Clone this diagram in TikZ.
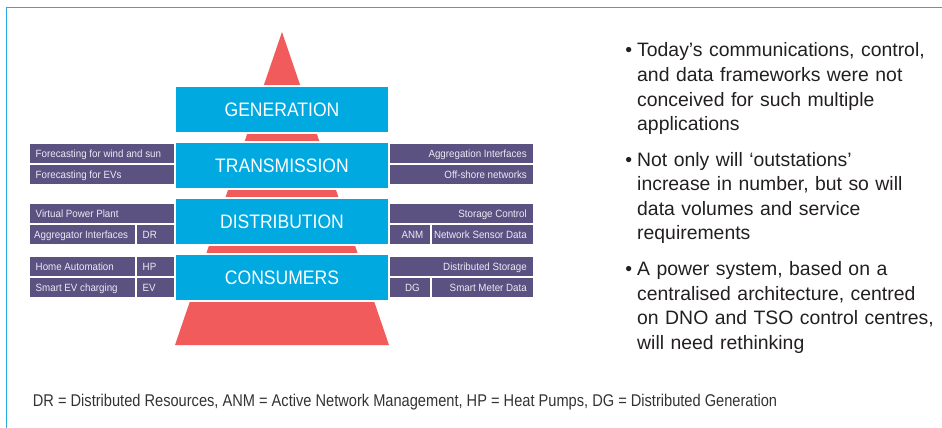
\documentclass[tikz,border=0pt]{standalone}
\usepackage{fontspec}
\setmainfont{Liberation Sans}
\newfontfamily\bandfont{Liberation Sans}[FakeStretch=0.9]
\newfontfamily\tagfont{Liberation Sans}[FakeStretch=0.93]
\newfontfamily\notefont{Liberation Sans}[FakeStretch=0.86]
\usetikzlibrary{positioning}
\definecolor{bandblue}{HTML}{00A9E0}
\definecolor{tagpurple}{HTML}{5B5282}
\definecolor{tagtext}{HTML}{ECEAF4}
\definecolor{pyrred}{HTML}{F25B5B}
\definecolor{framecyan}{HTML}{29ABE2}
\definecolor{bodytext}{HTML}{231F20}
\definecolor{notegrey}{HTML}{333333}
\newcommand{\bul}{\llap{•\kern5pt}}
\tikzset{
  band/.style = {fill = bandblue, draw = white, line width = 2pt, outer sep = 0pt, inner sep = 0pt,
    minimum width = 214pt, minimum height = 47pt, text = white,
    font = \bandfont\fontsize{19.5}{20}\selectfont, text height = 14pt, text depth = 0pt},
  tag/.style = {fill = tagpurple, anchor = north west, inner sep = 0pt, outer sep = 0pt,
    minimum height = 19pt, minimum width = #1},
  tagtxt/.style = {text = tagtext, inner ysep = 0pt, inner xsep = 5.5pt,
    font = \tagfont\fontsize{10.5}{11}\selectfont, text height = 7.5pt, text depth = 0pt},
  tagleft/.style 2 args = {tag = #1, label = {[tagtxt, anchor = west]west:#2}},
  tagright/.style 2 args = {tag = #1, label = {[tagtxt, inner xsep = 6pt, anchor = east]east:#2}},
  tagmid/.style 2 args = {tag = #1, label = {[tagtxt, xshift = 2.5pt]center:#2}},
  point/.style = {anchor = base west, inner sep = 0pt, text width = 300pt, align = left, text = bodytext,
    font = \fontsize{19.4}{24.5}\selectfont}
}
\begin{document}
\begin{tikzpicture}[x = 1pt, y = -1pt]
  \useasboundingbox (0, 0) rectangle (942, 428);
  \draw [framecyan, line width = 1.2pt] (6.3, 428) -- (6.3, 7.3) -- (942, 7.3);
  \fill [pyrred] (282, 32) -- (389, 345) -- (175, 345) -- cycle;
  \node [band] (gen) at (282, 109.5) {GENERATION};
  \node [band, below = 9pt of gen] (trans) {TRANSMISSION};
  \node [band, below = 9pt of trans] (dist) {DISTRIBUTION};
  \node [band, below = 9pt of dist] (cons) {CONSUMERS};
  % left side
  \node [tagleft = {144pt}{Forecasting for wind and sun}] (windsun) at (30, 144) {};
  \node [tagleft = {144pt}{Forecasting for EVs}] (evcast) at (30, 165) {};
  \node [tagleft = {144pt}{Virtual Power Plant}] (vpp) at (30, 204) {};
  \node [tag = 105pt, label = {[tagtxt, anchor = west, inner xsep = 4pt]west:Aggregator Interfaces}] (aggif) at (30, 225) {};
  \node [tagleft = {37pt}{DR}] (dr) at (137, 225) {};
  \node [tagleft = {105pt}{Home Automation}] (home) at (30, 257) {};
  \node [tagleft = {37pt}{HP}] (hp) at (137, 257) {};
  \node [tagleft = {105pt}{Smart EV charging}] (evcharge) at (30, 278) {};
  \node [tagleft = {37pt}{EV}] (ev) at (137, 278) {};
  % right side
  \node [tagright = {143pt}{Aggregation Interfaces}] (aggint) at (390, 144) {};
  \node [tagright = {143pt}{Off-shore networks}] (offshore) at (390, 165) {};
  \node [tagright = {143pt}{Storage Control}] (storectl) at (390, 204) {};
  \node [tagmid = {40pt}{ANM}] (anm) at (390, 225) {};
  \node [tagright = {101pt}{Network Sensor Data}] (sensor) at (432, 225) {};
  \node [tagright = {143pt}{Distributed Storage}] (diststore) at (390, 257) {};
  \node [tagmid = {40pt}{DG}] (dg) at (390, 278) {};
  \node [tagright = {101pt}{Smart Meter Data}] (meter) at (432, 278) {};
  % bullet points
  \node [point] (frameworks) at (637, 57) {\bul Today’s communications, control,\\and data frameworks were not\\conceived for such multiple\\applications};
  \node [point] (outstations) at (637, 166) {\bul Not only will ‘outstations’\\increase in number, but so will\\data volumes and service\\requirements};
  \node [point] (rethink) at (637, 275.5) {\bul A power system, based on a\\centralised architecture, centred\\on DNO and TSO control centres,\\will need rethinking};
  \node [anchor = base west, inner sep = 0pt, text = notegrey, font = \notefont\fontsize{17}{20}\selectfont] (note) at (32.7, 406.7)
    {DR = Distributed Resources, ANM = Active Network Management, HP = Heat Pumps, DG = Distributed Generation};
\end{tikzpicture}
\end{document}
